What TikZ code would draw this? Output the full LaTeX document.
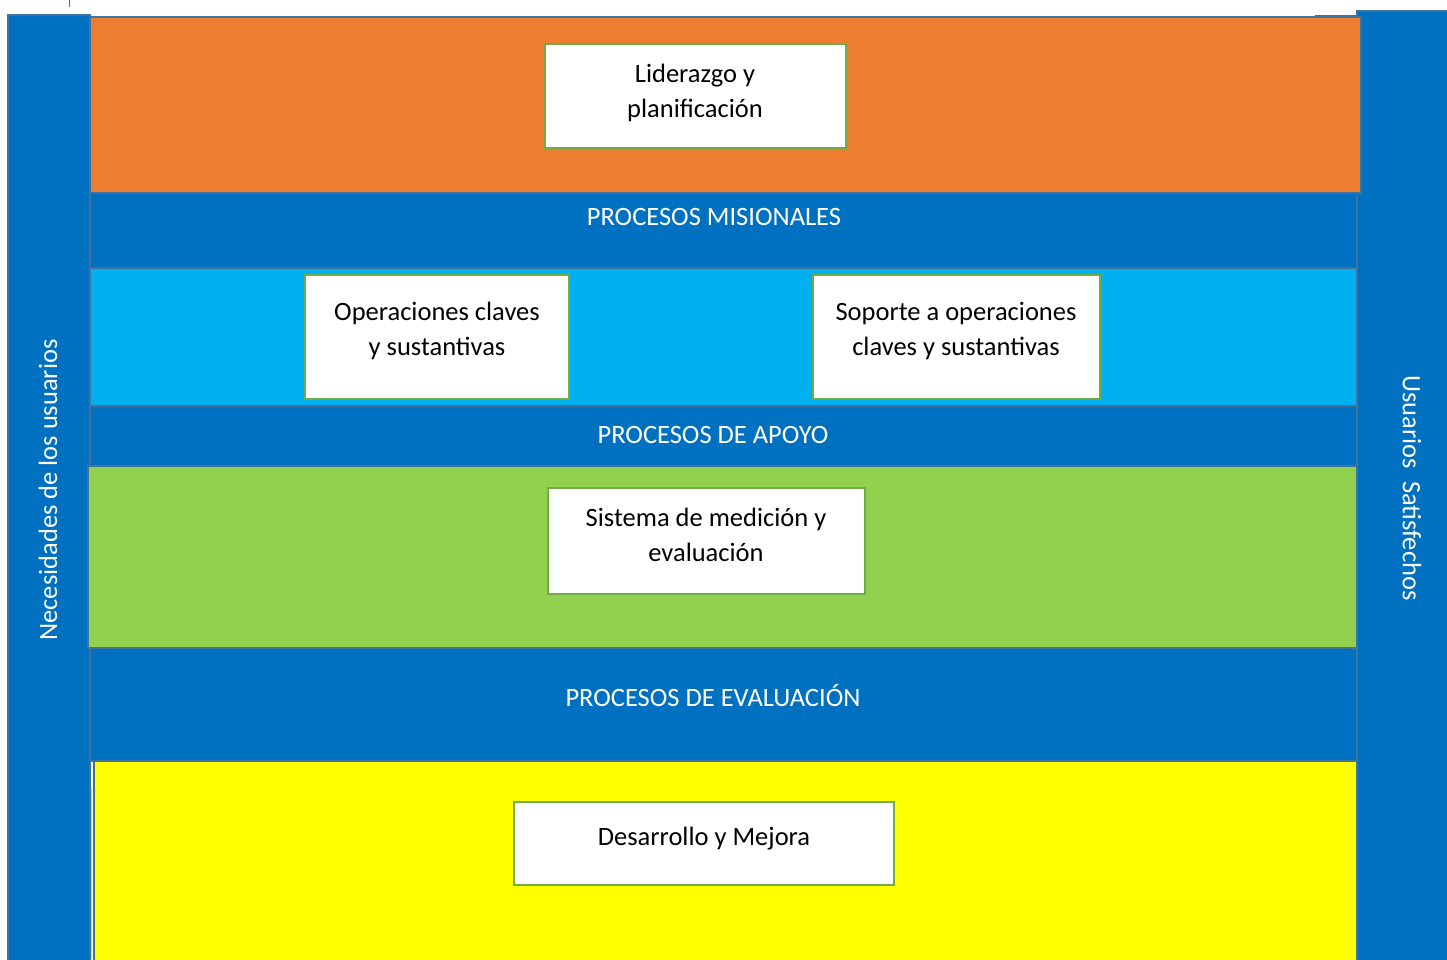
\documentclass[tikz,border=0pt]{standalone}
\usepackage{fontspec}
\setmainfont{Carlito}
\definecolor{edgeblue}{HTML}{41719C}
\definecolor{bandblue}{HTML}{0070C0}
\definecolor{skyblue}{HTML}{00B0F0}
\definecolor{leafgreen}{HTML}{92D050}
\definecolor{sunorange}{HTML}{ED7D31}
\definecolor{lemon}{HTML}{FFFF00}
\definecolor{boxgreen}{HTML}{70AD47}
\begin{document}
\begin{tikzpicture}[x=1pt,y=-1pt,
  band/.style={draw=edgeblue,line width=2pt},
  box/.style={draw=boxgreen,fill=white,line width=2.5pt,inner sep=0pt},
  txt/.style={font=\fontsize{26.5}{35.5}\selectfont,align=center,inner sep=0pt},
  wtxt/.style={txt,text=white}]
\useasboundingbox (0,0) rectangle (1447,959);
\fill[white] (0,0) rectangle (1447,959);

% side bars
\draw[edgeblue,line width=1pt] (69,0) -- (69,7);
\draw[edgeblue,line width=2pt] (1315,16) -- (1358,16);
\filldraw[band,fill=bandblue] (8,15) rectangle (90,965);
\filldraw[band,fill=bandblue] (1357,11) rectangle (1455,965);

% horizontal layers, top to bottom
\filldraw[band,fill=sunorange] (90,17) rectangle (1361,193);
\filldraw[band,fill=bandblue] (90,193) rectangle (1357,268);
\filldraw[band,fill=skyblue] (90,268) rectangle (1357,406);
\filldraw[band,fill=bandblue] (90,406) rectangle (1357,466);
\filldraw[band,fill=leafgreen] (88,466) rectangle (1357,648);
\filldraw[band,fill=bandblue] (90,648) rectangle (1357,761);
\filldraw[band,fill=lemon] (94,761) rectangle (1357,965);
\draw[white!70!edgeblue,line width=1pt] (91,788) -- (91,959);

% process boxes
\node[box,minimum width=301,minimum height=104] (lid) at (695.5,96) {};
\node[box,minimum width=264,minimum height=124] (ope) at (437,337) {};
\node[box,minimum width=287,minimum height=124] (sop) at (956.5,337) {};
\node[box,minimum width=317,minimum height=106] (sis) at (706.5,541) {};
\node[box,minimum width=380,minimum height=83] (des) at (704,843.5) {};

\node[txt] (lidt) at (695,93) {Liderazgo y\\planificación};
\node[txt] (opet) at (437,331) {Operaciones claves\\y sustantivas};
\node[txt] (sopt) at (956,331) {Soporte a operaciones\\claves y sustantivas};
\node[txt] (sist) at (706,535) {Sistema de medición y\\evaluación};
\node[txt,anchor=base] (dest) at (704,845) {Desarrollo y Mejora};

% band titles
\node[wtxt,anchor=base] (mis) at (714,225) {PROCESOS MISIONALES};
\node[wtxt,anchor=base] (apo) at (713,443) {PROCESOS DE APOYO};
\node[wtxt,anchor=base] (eva) at (713,706) {PROCESOS DE EVALUACIÓN};

% side captions
\node[wtxt,rotate=90] (nec) at (48,490) {Necesidades de los usuarios};
\node[wtxt,rotate=-90] (usu) at (1412,488) {Usuarios\ \ Satisfechos};
\end{tikzpicture}
\end{document}
